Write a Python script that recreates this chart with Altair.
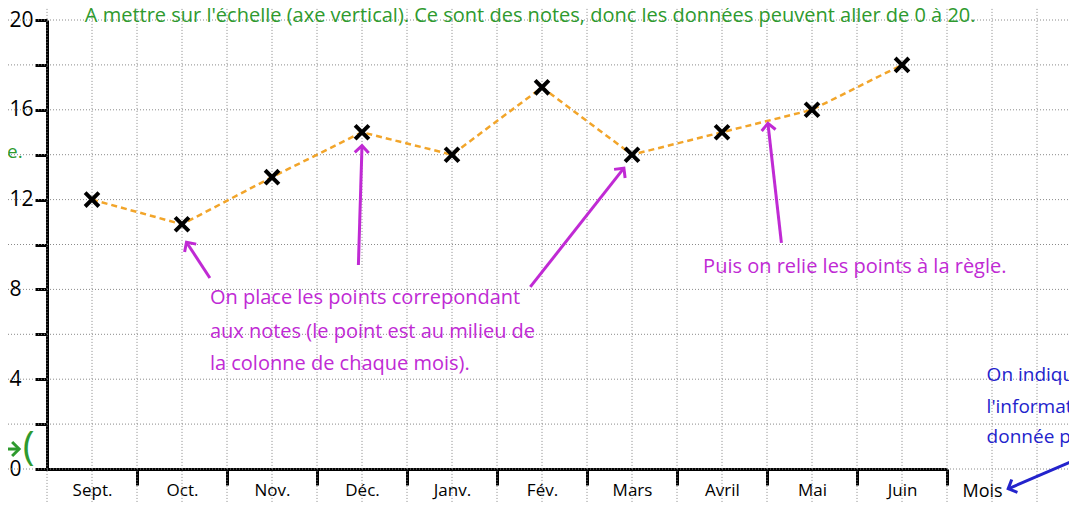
import altair as alt
import pandas as pd

FONT = "Open Sans"

# ---- data -------------------------------------------------------------
MONTHS = ["Sept.", "Oct.", "Nov.", "Déc.", "Janv.", "Fév.", "Mars", "Avril", "Mai", "Juin"]
NOTES = [12, 10.9, 13, 15, 14, 17, 14, 15, 16, 18]

Y_TICKS = [0, 2, 4, 6, 8, 10, 12, 14, 16, 18, 20]
X_TICKS = [0.5, 1, 1.5, 2, 2.5, 3, 3.5, 4, 4.5, 5, 5.5, 6, 6.5, 7, 7.5, 8, 8.5, 9, 9.5, 10]

# background "grid paper" lines (data units)
GRID_X = [-0.5, 0, 0.5, 1, 1.5, 2, 2.5, 3, 3.5, 4, 4.5, 5, 5.5, 6, 6.5, 7, 7.5,
          8, 8.5, 9, 9.5, 10, 10.5, 11, 11.5]
GRID_Y = [0, 2, 4, 6, 8, 10, 12, 14, 16, 18, 20]

GREEN = "#2e9a2e"
PURPLE = "#c02ad4"
BLUE = "#2323cc"

# annotation texts (x, y in data units)
TEXT_LINES = ["À mettre sur l'échelle (axe vertical). Ce sont des notes, donc les données peuvent aller de 0 à 20.",
              "On place les points correpondant",
              "aux notes (le point est au milieu de",
              "la colonne de chaque mois).",
              "Puis on relie les points à la règle.",
              "On indique",
              "l'information",
              "donnée par",
              "("]
TEXT_X = [0.42, 1.81, 1.81, 1.81, 7.29, 10.44, 10.44, 10.44, -0.27]
TEXT_Y = [20.2, 7.62, 6.10, 4.68, 9.0, 4.19, 2.76, 1.43, 0.95]
TEXT_COLOR = [GREEN, PURPLE, PURPLE, PURPLE, PURPLE, BLUE, BLUE, BLUE, GREEN]
TEXT_SIZE = [20, 20, 20, 20, 20, 19, 19, 19, 40]

RIGHT_TEXT = ["l'axe."]
RIGHT_X = [-0.27]
RIGHT_Y = [14.12]

# arrows: tail (x, y) -> head (x2, y2), head angle in degrees
ARROW_X = [1.81, 3.46, 5.37, 8.16, 11.37, -0.56]
ARROW_Y = [8.51, 9.09, 8.11, 10.07, 0.31, 0.89]
ARROW_X2 = [1.55, 3.50, 6.41, 8.01, 10.68, -0.31]
ARROW_Y2 = [10.10, 14.40, 13.40, 15.40, -0.88, 0.89]
ARROW_ANGLE = [326, 2, 38, 354, 246, 90]
ARROW_COLOR = [PURPLE, PURPLE, PURPLE, PURPLE, BLUE, GREEN]

# ---- tables -------------------------------------------------------------
df = pd.DataFrame({"mois": MONTHS, "note": NOTES,
                   "pos": [i + 0.5 for i in range(len(MONTHS))]})
gx = pd.DataFrame({"pos": GRID_X, "note": -2, "note2": 22})
gy = pd.DataFrame({"note": GRID_Y, "pos": -1, "pos2": 12})
txt = pd.DataFrame({"t": TEXT_LINES, "pos": TEXT_X, "note": TEXT_Y, "c": TEXT_COLOR, "s": TEXT_SIZE})
rtxt = pd.DataFrame({"t": RIGHT_TEXT, "pos": RIGHT_X, "note": RIGHT_Y})
arr = pd.DataFrame({"pos": ARROW_X, "note": ARROW_Y, "pos2": ARROW_X2, "note2": ARROW_Y2,
                    "a": ARROW_ANGLE, "c": ARROW_COLOR})

xs = alt.Scale(domain=[0, 10], nice=False, zero=False)
ys = alt.Scale(domain=[0, 20], nice=False, zero=False)

month_js = "[" + ",".join("'" + m + "'" for m in MONTHS) + "]"

x_axis = alt.Axis(
    values=X_TICKS,
    labelExpr="datum.value % 1 != 0 ? " + month_js + "[floor(datum.value)] : ''",
    tickOpacity={"condition": {"test": "datum.value % 1 == 0", "value": 1}, "value": 0},
    tickSize=16, tickWidth=3, tickColor="black",
    domainWidth=3, domainColor="black",
    labelFont=FONT, labelFontSize=17, labelColor="black", labelPadding=-3,
    labelFlush=False, labelOverlap=False, grid=False,
    title="Mois", titleFont=FONT, titleFontSize=18, titleFontWeight="normal",
    titleColor="black", titleX=915, titleY=22, titleAlign="left", titleBaseline="middle",
    titleAnchor="start",
)
y_axis = alt.Axis(
    values=Y_TICKS,
    labelExpr="datum.value % 4 == 0 ? datum.label : ''",
    tickSize=12, tickWidth=3, tickColor="black",
    domainWidth=3, domainColor="black",
    labelFont=FONT, labelFontSize=21, labelColor="black", labelPadding=26,
    labelAlign="left",
    labelFlush=False, labelOverlap=False, grid=False, title=None,
)

X = alt.X("pos:Q", scale=xs, axis=x_axis)
Y = alt.Y("note:Q", scale=ys, axis=y_axis)

grid_v = alt.Chart(gx).mark_rule(color="#8a8a8a", strokeDash=[1, 2], strokeWidth=1).encode(
    x=X, y=Y, y2="note2:Q")
grid_h = alt.Chart(gy).mark_rule(color="#8a8a8a", strokeDash=[1, 2], strokeWidth=1).encode(
    x=X, y=Y, x2="pos2:Q")

line = alt.Chart(df).mark_line(color="#f2a52a", strokeDash=[6, 4], strokeWidth=2.5).encode(
    x=X, y=Y)
marks = alt.Chart(df).mark_point(
    shape="M-1,-1L1,1M1,-1L-1,1", size=190, filled=False, color="black",
    strokeWidth=4, opacity=1).encode(x=X, y=Y)

texts = alt.Chart(txt).mark_text(align="left", baseline="middle", font=FONT).encode(
    x=X, y=Y, text="t:N", color=alt.Color("c:N", scale=None), size=alt.Size("s:Q", scale=None))
rtexts = alt.Chart(rtxt).mark_text(align="right", baseline="middle", font=FONT,
                                   fontSize=19, color=GREEN).encode(x=X, y=Y, text="t:N")

shafts = alt.Chart(arr).mark_rule(strokeWidth=3).encode(
    x=X, y=Y, x2="pos2:Q", y2="note2:Q", color=alt.Color("c:N", scale=None))
heads = alt.Chart(arr).mark_point(
    shape="M-0.7,0.7L0,0L0.7,0.7", size=400, filled=False, strokeWidth=3, opacity=1).encode(
    x=alt.X("pos2:Q", scale=xs, axis=x_axis), y=alt.Y("note2:Q", scale=ys, axis=y_axis),
    angle=alt.Angle("a:Q", scale=None), color=alt.Color("c:N", scale=None))

chart = alt.layer(grid_v, grid_h, line, marks, shafts, heads, texts, rtexts).properties(
    width=900, height=449,
    autosize=alt.AutoSizeParams(type="none"),
    padding={"left": 39, "top": 12, "right": 122, "bottom": 33},
    background="white",
).configure_view(strokeWidth=0)

chart.save("out.html", embed_options={"renderer": "svg", "actions": False})
